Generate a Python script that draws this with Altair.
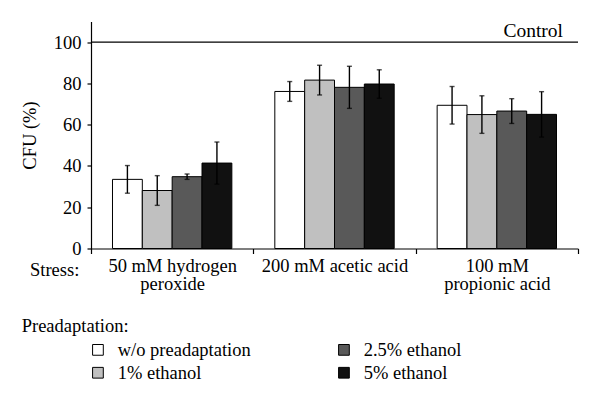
import altair as alt
import pandas as pd

FONT = "Liberation Serif"

categories = ["50 mM hydrogen|peroxide", "200 mM acetic acid", "100 mM|propionic acid"]
series = ["w/o preadaptation", "1% ethanol", "2.5% ethanol", "5% ethanol"]
colors = ["#ffffff", "#c0c0c0", "#595959", "#111111"]

h2o2_mean = [33.5, 28.1, 34.8, 41.4]
h2o2_err = [6.7, 7.2, 1.3, 10.2]
acetic_mean = [76.1, 81.6, 78.1, 79.7]
acetic_err = [4.8, 7.2, 10.2, 6.9]
propionic_mean = [69.4, 64.9, 66.6, 65.0]
propionic_err = [9.1, 9.1, 6.0, 11.0]

control_value = 100
y_ticks = [0, 20, 40, 60, 80, 100]

rows = []
for cat, means, errs in zip(categories,
                            [h2o2_mean, acetic_mean, propionic_mean],
                            [h2o2_err, acetic_err, propionic_err]):
    for s, m, e in zip(series, means, errs):
        rows.append({"cat": cat, "series": s, "mean": m, "lo": m - e, "hi": m + e})
df = pd.DataFrame(rows)

W, H = 487, 227
FS = 18.5

x_enc = alt.X("cat:N", sort=categories, title=None,
              scale=alt.Scale(paddingInner=0, paddingOuter=0),
              axis=alt.Axis(labelExpr="split(datum.label, '|')", tickBand="extent",
                            tickSize=5, labelPadding=3, labelFontSize=FS, labelFont=FONT,
                            labelLineHeight=18, labelAngle=0, labelLimit=300,
                            labelColor="black", domainColor="black", tickColor="black",
                            domainWidth=1.2, tickWidth=1.2))
xoff = alt.XOffset("series:N", sort=series,
                   scale=alt.Scale(paddingInner=0, paddingOuter=0.72))

y_scale = alt.Scale(domain=[0, 110], nice=False)

bars = alt.Chart(df).mark_bar(stroke="black", strokeWidth=1).encode(
    x=x_enc,
    xOffset=xoff,
    y=alt.Y("mean:Q", scale=y_scale, title="CFU (%)",
            axis=alt.Axis(values=y_ticks, grid=False, tickSize=4, labelPadding=6,
                          labelFontSize=FS, labelFont=FONT, labelColor="black",
                          titleFont=FONT, titleFontSize=FS, titleFontWeight="normal",
                          titleColor="black", titlePadding=14,
                          domainColor="black", tickColor="black",
                          domainWidth=1.2, tickWidth=1.2)),
    color=alt.Color("series:N",
                    scale=alt.Scale(domain=series, range=colors),
                    legend=alt.Legend(title=None, orient="none", legendX=-2.3, legendY=319,
                                      columns=2, columnPadding=83, rowPadding=4,
                                      symbolType="square", symbolSize=115,
                                      symbolStrokeColor="black", symbolStrokeWidth=1,
                                      labelFont=FONT, labelFontSize=FS, labelColor="black",
                                      labelOffset=10.5, padding=0)),
)

err_rule = alt.Chart(df).mark_rule(color="black", strokeWidth=1.4).encode(
    x=alt.X("cat:N", sort=categories), xOffset=xoff,
    y=alt.Y("lo:Q", scale=y_scale), y2="hi:Q")
cap_lo = alt.Chart(df).mark_tick(color="black", size=5, thickness=1.4).encode(
    x=alt.X("cat:N", sort=categories), xOffset=xoff, y=alt.Y("lo:Q", scale=y_scale))
cap_hi = alt.Chart(df).mark_tick(color="black", size=5, thickness=1.4).encode(
    x=alt.X("cat:N", sort=categories), xOffset=xoff, y=alt.Y("hi:Q", scale=y_scale))

ctrl_df = pd.DataFrame({"v": [control_value], "t": ["Control"]})
ctrl_rule = alt.Chart(ctrl_df).mark_rule(color="black", strokeWidth=1.4).encode(
    y=alt.Y("v:Q", scale=y_scale))
ctrl_text = alt.Chart(ctrl_df).mark_text(font=FONT, fontSize=19.5, align="right",
                                         baseline="alphabetic", dy=-5, color="black").encode(
    x=alt.value(472), y=alt.Y("v:Q", scale=y_scale), text="t:N")

stress = alt.Chart(pd.DataFrame({"t": ["Stress:"]})).mark_text(
    font=FONT, fontSize=FS, align="left", baseline="alphabetic", color="black").encode(
    x=alt.value(-61), y=alt.value(254), text="t:N")
pre = alt.Chart(pd.DataFrame({"t": ["Preadaptation:"]})).mark_text(
    font=FONT, fontSize=FS, align="left", baseline="alphabetic", color="black").encode(
    x=alt.value(-69.3), y=alt.value(310.2), text="t:N")

chart = alt.layer(bars, err_rule, cap_lo, cap_hi, ctrl_rule, ctrl_text, stress, pre).properties(
    width=W, height=H,
    autosize=alt.AutoSizeParams(type="none"),
    padding={"left": 83, "top": 13.5, "right": 14, "bottom": 140},
).configure_view(stroke=None)

chart.save("out.html", embed_options={"renderer": "svg", "actions": False})
